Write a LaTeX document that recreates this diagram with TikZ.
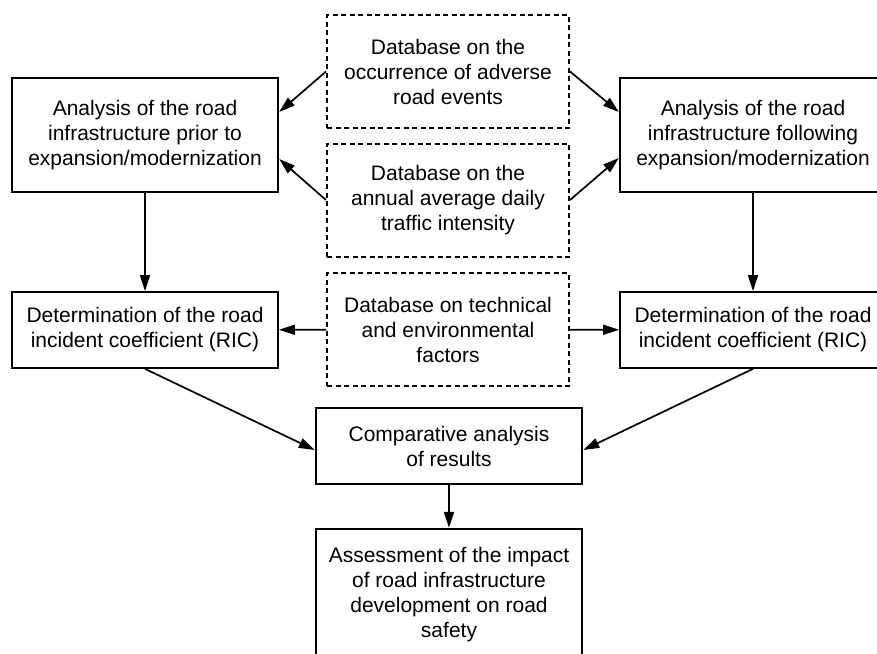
\documentclass[tikz,border=0pt]{standalone}
\usepackage{fontspec}
\setmainfont{Liberation Sans}
\usetikzlibrary{arrows.meta}

\begin{document}
\begin{tikzpicture}[x=1pt,y=-1pt,
	txt/.style={align=center,inner sep=0pt,font=\fontsize{21pt}{25pt}\selectfont},
	mainbox/.style={txt,draw,line width=2.4pt,minimum width=266pt},
	ricbox/.style={txt,draw,line width=1.7pt,minimum width=266pt,minimum height=76pt},
	dbbox/.style={txt,draw,line width=2pt,dash pattern=on 5pt off 3.5pt,minimum width=242pt,minimum height=113pt},
	link/.style={line width=1.7pt,-{Triangle[length=16pt,width=10pt]}}]
	
	\useasboundingbox (0,0) rectangle (877,653);
	
	% databases
	\node[dbbox] (dbevents) at (448,71.5) {Database on the\\occurrence of adverse\\road events};
	\node[dbbox] (dbtraffic) at (448,200) {Database on the\\annual average daily\\traffic intensity};
	\node[dbbox] (dbfactors) at (448,329.5) {Database on technical\\and environmental\\factors};
	
	% before / after
	\node[mainbox,minimum height=114pt] (before) at (145,135) {Analysis of the road\\infrastructure prior to\\expansion/modernization};
	\node[mainbox,minimum height=114pt] (after) at (753,135) {Analysis of the road\\infrastructure following\\expansion/modernization};
	\node[ricbox] (ricbefore) at (145,330) {Determination of the road\\incident coefficient (RIC)};
	\node[ricbox] (ricafter) at (753,330) {Determination of the road\\incident coefficient (RIC)};
	
	% results
	\node[mainbox,minimum height=76pt] (compare) at (449,446) {Comparative analysis\\of results};
	\node[mainbox,minimum height=131pt] (impact) at (449,594.5) {Assessment of the impact\\of road infrastructure\\development on road\\safety};
	
	\draw[link] (dbevents.west) -- ([yshift=23pt]before.east);
	\draw[link] (dbtraffic.west) -- ([yshift=-24pt]before.east);
	\draw[link] (dbevents.east) -- ([yshift=23pt]after.west);
	\draw[link] (dbtraffic.east) -- ([yshift=-23pt]after.west);
	\draw[link] (before) -- (ricbefore);
	\draw[link] (after) -- (ricafter);
	\draw[link] (dbfactors) -- (ricbefore);
	\draw[link] (dbfactors) -- (ricafter);
	\draw[link] (ricbefore.south) -- ([yshift=-4pt]compare.west);
	\draw[link] (ricafter.south) -- ([yshift=-4pt]compare.east);
	\draw[link] (compare) -- (impact);
\end{tikzpicture}
\end{document}
